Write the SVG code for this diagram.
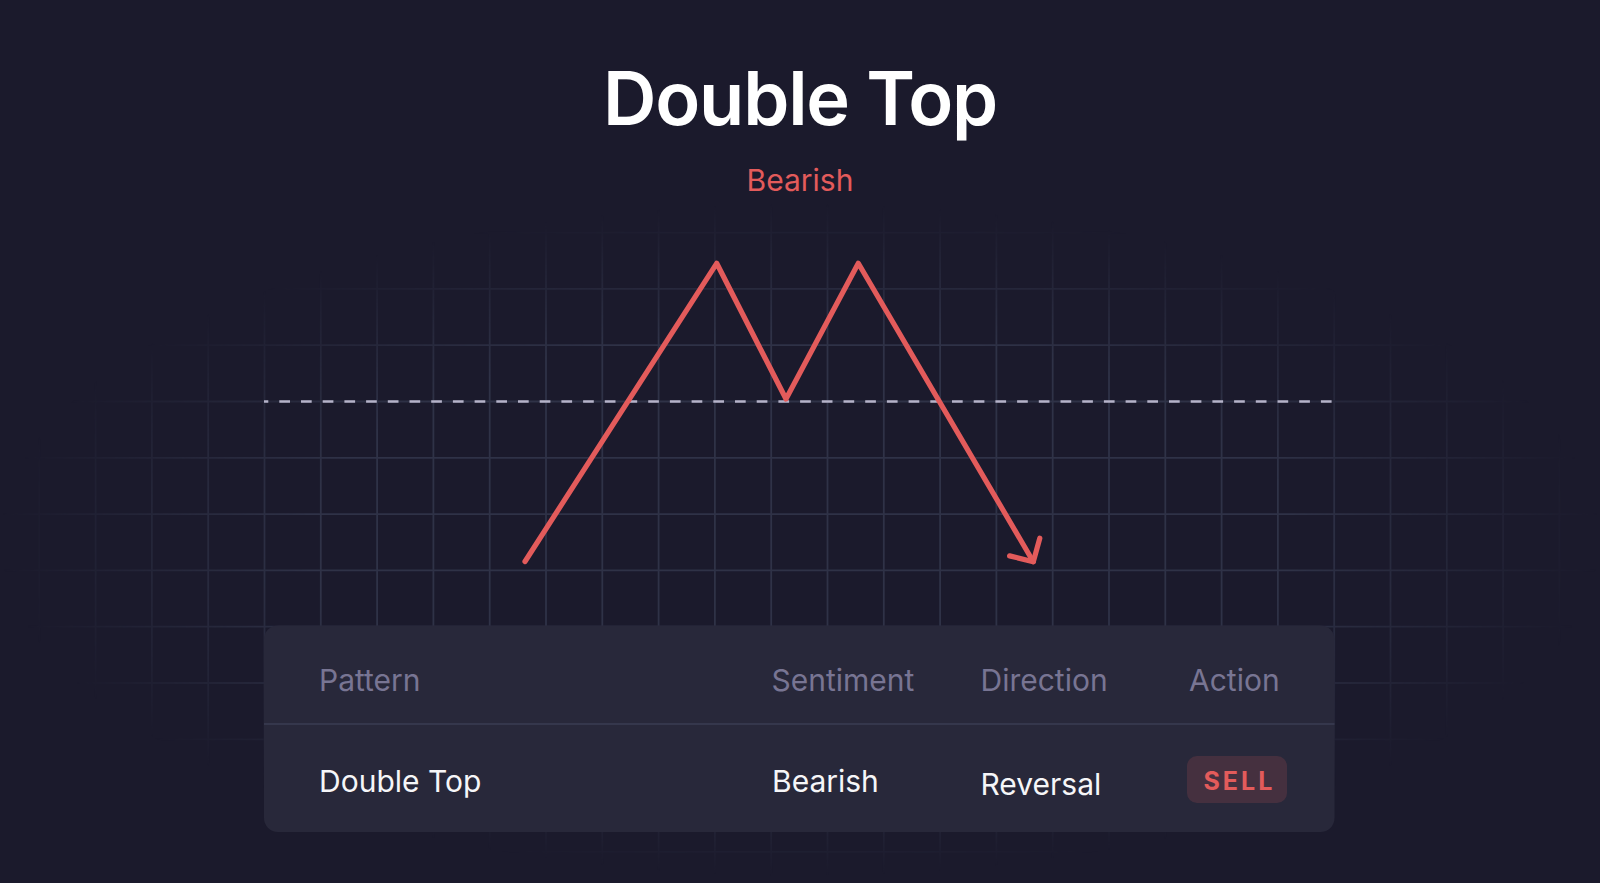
<svg xmlns="http://www.w3.org/2000/svg" width="1600" height="883" viewBox="0 0 1600 883">
  <style>
    .title { font-family: Inter, "Liberation Sans", sans-serif; font-weight: 600; font-size: 74px; fill: #ffffff; letter-spacing: -1.2px; }
    .sub { font-family: Inter, "Liberation Sans", sans-serif; font-size: 30px; fill: #e35b5b; }
    .th { font-family: Inter, "Liberation Sans", sans-serif; font-size: 30px; fill: #787593; }
    .td { font-family: Inter, "Liberation Sans", sans-serif; font-size: 30px; fill: #f6f6f8; }
    .badge-text { font-family: Inter, "Liberation Sans", sans-serif; font-weight: 700; font-size: 25px; fill: #e35b5b; letter-spacing: 3px; }
    .grid { stroke: #2f3247; stroke-width: 1.8; fill: none; }
    .price { stroke: #e35b5b; stroke-width: 5.2; fill: none; stroke-linecap: round; stroke-linejoin: round; }
    .neck { stroke: #b5b3c9; stroke-width: 2.6; stroke-dasharray: 10.7 11; stroke-dashoffset: 6.4; fill: none; }
  </style>
  <defs>
    <radialGradient id="fade" gradientUnits="userSpaceOnUse" cx="800" cy="540" r="800" gradientTransform="translate(0 540) scale(1 0.42) translate(0 -540)">
      <stop offset="0" stop-color="#fff" stop-opacity="1"/>
      <stop offset="0.62" stop-color="#fff" stop-opacity="1"/>
      <stop offset="1" stop-color="#fff" stop-opacity="0"/>
    </radialGradient>
    <mask id="gridMask" maskUnits="userSpaceOnUse" x="0" y="0" width="1600" height="883">
      <rect x="0" y="0" width="1600" height="883" fill="url(#fade)"/>
    </mask>
    <marker id="chev" viewBox="-25 -25 30 50" refX="0" refY="0" markerWidth="30" markerHeight="50" markerUnits="userSpaceOnUse" orient="auto" overflow="visible">
      <path d="M -17 -17.5 L 0 0 L -17 17.5" fill="none" stroke="#e35b5b" stroke-width="5.2" stroke-linecap="round" stroke-linejoin="round"/>
    </marker>
  </defs>

  <rect x="0" y="0" width="1600" height="883" fill="#1b1a2c"/>

  <g id="grid" mask="url(#gridMask)">
    <path class="grid" d="M39.3 150V883M95.6 150V883M151.9 150V883M208.2 150V883M264.5 150V883M320.8 150V883M377.1 150V883M433.4 150V883M489.7 150V883M546 150V883M602.3 150V883M658.6 150V883M714.9 150V883M771.2 150V883M827.5 150V883M883.8 150V883M940.1 150V883M996.4 150V883M1052.7 150V883M1109 150V883M1165.3 150V883M1221.6 150V883M1277.9 150V883M1334.2 150V883M1390.5 150V883M1446.8 150V883M1503.1 150V883M1559.4 150V883"/>
    <path class="grid" d="M0 176.3H1600M0 232.6H1600M0 288.9H1600M0 345.2H1600M0 401.5H1600M0 457.8H1600M0 514.1H1600M0 570.4H1600M0 626.7H1600M0 683H1600M0 739.3H1600M0 795.6H1600M0 851.9H1600"/>
  </g>

  <g id="title">
    <text class="title" x="800" y="125" text-anchor="middle">Double Top</text>
    <text class="sub" x="800" y="190.5" text-anchor="middle">Bearish</text>
  </g>

  <g id="connectors">
    <line id="neckline" class="neck" x1="264" y1="401.5" x2="1334" y2="401.5"/>
    <polyline id="price-path" class="price" points="525,561.5 716.7,263.3 786,399 858.3,263.3 1033.3,561.7" marker-end="url(#chev)"/>
  </g>

  <g id="table">
    <rect x="264" y="625.5" width="1070.5" height="206.5" rx="14" fill="#28283a"/>
    <line x1="264" y1="724" x2="1334.5" y2="724" stroke="#35374c" stroke-width="2"/>
    <text class="th" x="319" y="691">Pattern</text>
    <text class="th" x="771.5" y="691">Sentiment</text>
    <text class="th" x="980.5" y="691">Direction</text>
    <text class="th" x="1189" y="691">Action</text>
    <text class="td" x="319" y="791.5">Double Top</text>
    <text class="td" x="772" y="791.5">Bearish</text>
    <text class="td" x="980.5" y="795">Reversal</text>
    <g id="sell-badge">
      <rect x="1187" y="756" width="100" height="47" rx="10" fill="#e35b5b" fill-opacity="0.16"/>
      <text class="badge-text" x="1203.5" y="790">SELL</text>
    </g>
  </g>
</svg>
